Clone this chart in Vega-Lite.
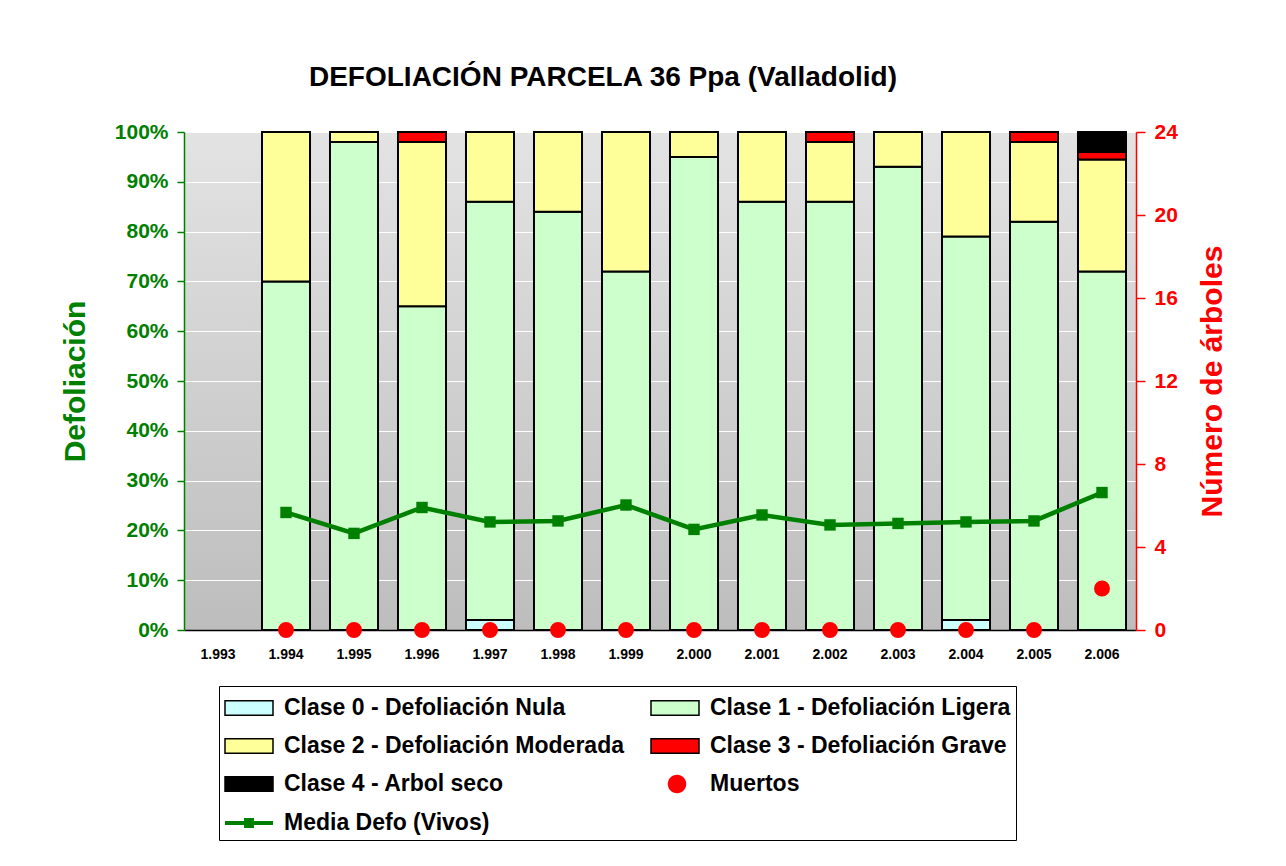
{
  "$schema": "https://vega.github.io/schema/vega-lite/v6.json",
  "width": 952,
  "height": 498,
  "padding": {"left": 184, "top": 132, "right": 150, "bottom": 236},
  "autosize": {"type": "none"},
  "background": "#ffffff",
  "config": {
    "font": "Liberation Sans",
    "view": {"stroke": "#808080", "strokeWidth": 1},
    "legend": {
      "orient": "none",
      "legendX": 35,
      "legendY": 554,
      "direction": "horizontal",
      "columns": 2,
      "columnPadding": 24,
      "rowPadding": 9,
      "padding": 5,
      "strokeColor": "#000000",
      "fillColor": "#ffffff",
      "labelFontSize": 23,
      "labelFontWeight": "bold",
      "labelColor": "#000000",
      "labelFont": "Liberation Sans",
      "labelLimit": 600,
      "labelOffset": 26,
      "symbolSize": 1024,
      "symbolStrokeWidth": 1.5
    }
  },
  "view": {
    "stroke": "#808080",
    "fill": {
      "gradient": "linear",
      "x1": 0, "y1": 0, "x2": 0, "y2": 1,
      "stops": [
        {"offset": 0, "color": "#e3e3e3"},
        {"offset": 1, "color": "#bdbdbd"}
      ]
    }
  },
  "title": {
    "text": "DEFOLIACIÓN PARCELA 36 Ppa (Valladolid)",
    "fontSize": 28,
    "fontWeight": "bold",
    "color": "#000000",
    "font": "Liberation Sans",
    "anchor": "middle",
    "frame": "group",
    "dx": -57,
    "baseline": "alphabetic",
    "offset": 7
  },
  "datasets": {
    "bars": [
      {"anio": "1.994", "clase": "Clase 1 - Defoliación Ligera", "orden": 1, "pct": 0.70},
      {"anio": "1.994", "clase": "Clase 2 - Defoliación Moderada", "orden": 2, "pct": 0.30},
      {"anio": "1.995", "clase": "Clase 1 - Defoliación Ligera", "orden": 1, "pct": 0.98},
      {"anio": "1.995", "clase": "Clase 2 - Defoliación Moderada", "orden": 2, "pct": 0.02},
      {"anio": "1.996", "clase": "Clase 1 - Defoliación Ligera", "orden": 1, "pct": 0.65},
      {"anio": "1.996", "clase": "Clase 2 - Defoliación Moderada", "orden": 2, "pct": 0.33},
      {"anio": "1.996", "clase": "Clase 3 - Defoliación Grave", "orden": 3, "pct": 0.02},
      {"anio": "1.997", "clase": "Clase 0 - Defoliación Nula", "orden": 0, "pct": 0.02},
      {"anio": "1.997", "clase": "Clase 1 - Defoliación Ligera", "orden": 1, "pct": 0.84},
      {"anio": "1.997", "clase": "Clase 2 - Defoliación Moderada", "orden": 2, "pct": 0.14},
      {"anio": "1.998", "clase": "Clase 1 - Defoliación Ligera", "orden": 1, "pct": 0.84},
      {"anio": "1.998", "clase": "Clase 2 - Defoliación Moderada", "orden": 2, "pct": 0.16},
      {"anio": "1.999", "clase": "Clase 1 - Defoliación Ligera", "orden": 1, "pct": 0.72},
      {"anio": "1.999", "clase": "Clase 2 - Defoliación Moderada", "orden": 2, "pct": 0.28},
      {"anio": "2.000", "clase": "Clase 1 - Defoliación Ligera", "orden": 1, "pct": 0.95},
      {"anio": "2.000", "clase": "Clase 2 - Defoliación Moderada", "orden": 2, "pct": 0.05},
      {"anio": "2.001", "clase": "Clase 1 - Defoliación Ligera", "orden": 1, "pct": 0.86},
      {"anio": "2.001", "clase": "Clase 2 - Defoliación Moderada", "orden": 2, "pct": 0.14},
      {"anio": "2.002", "clase": "Clase 1 - Defoliación Ligera", "orden": 1, "pct": 0.86},
      {"anio": "2.002", "clase": "Clase 2 - Defoliación Moderada", "orden": 2, "pct": 0.12},
      {"anio": "2.002", "clase": "Clase 3 - Defoliación Grave", "orden": 3, "pct": 0.02},
      {"anio": "2.003", "clase": "Clase 1 - Defoliación Ligera", "orden": 1, "pct": 0.93},
      {"anio": "2.003", "clase": "Clase 2 - Defoliación Moderada", "orden": 2, "pct": 0.07},
      {"anio": "2.004", "clase": "Clase 0 - Defoliación Nula", "orden": 0, "pct": 0.02},
      {"anio": "2.004", "clase": "Clase 1 - Defoliación Ligera", "orden": 1, "pct": 0.77},
      {"anio": "2.004", "clase": "Clase 2 - Defoliación Moderada", "orden": 2, "pct": 0.21},
      {"anio": "2.005", "clase": "Clase 1 - Defoliación Ligera", "orden": 1, "pct": 0.82},
      {"anio": "2.005", "clase": "Clase 2 - Defoliación Moderada", "orden": 2, "pct": 0.16},
      {"anio": "2.005", "clase": "Clase 3 - Defoliación Grave", "orden": 3, "pct": 0.02},
      {"anio": "2.006", "clase": "Clase 1 - Defoliación Ligera", "orden": 1, "pct": 0.72},
      {"anio": "2.006", "clase": "Clase 2 - Defoliación Moderada", "orden": 2, "pct": 0.225},
      {"anio": "2.006", "clase": "Clase 3 - Defoliación Grave", "orden": 3, "pct": 0.015},
      {"anio": "2.006", "clase": "Clase 4 - Arbol seco", "orden": 4, "pct": 0.04}
    ],
    "media": [
      {"anio": "1.994", "media": 0.236},
      {"anio": "1.995", "media": 0.194},
      {"anio": "1.996", "media": 0.246},
      {"anio": "1.997", "media": 0.217},
      {"anio": "1.998", "media": 0.219},
      {"anio": "1.999", "media": 0.251},
      {"anio": "2.000", "media": 0.202},
      {"anio": "2.001", "media": 0.231},
      {"anio": "2.002", "media": 0.211},
      {"anio": "2.003", "media": 0.214},
      {"anio": "2.004", "media": 0.217},
      {"anio": "2.005", "media": 0.219},
      {"anio": "2.006", "media": 0.276}
    ],
    "muertos": [
      {"anio": "1.994", "muertos": 0},
      {"anio": "1.995", "muertos": 0},
      {"anio": "1.996", "muertos": 0},
      {"anio": "1.997", "muertos": 0},
      {"anio": "1.998", "muertos": 0},
      {"anio": "1.999", "muertos": 0},
      {"anio": "2.000", "muertos": 0},
      {"anio": "2.001", "muertos": 0},
      {"anio": "2.002", "muertos": 0},
      {"anio": "2.003", "muertos": 0},
      {"anio": "2.004", "muertos": 0},
      {"anio": "2.005", "muertos": 0},
      {"anio": "2.006", "muertos": 2}
    ]
  },
  "encoding": {
    "x": {
      "field": "anio",
      "type": "nominal",
      "scale": {
        "type": "band",
        "domain": ["1.993", "1.994", "1.995", "1.996", "1.997", "1.998", "1.999", "2.000", "2.001", "2.002", "2.003", "2.004", "2.005", "2.006"],
        "paddingInner": 0.294,
        "paddingOuter": 0.147
      },
      "axis": {
        "title": null,
        "labelAngle": 0,
        "labelFontSize": 14,
        "labelFontWeight": "bold",
        "labelColor": "#000000",
        "labelPadding": 17,
        "ticks": false,
        "domainColor": "#000000",
        "domainWidth": 1.5,
        "grid": false
      }
    }
  },
  "layer": [
    {
      "layer": [
        {
          "data": {"name": "bars"},
          "mark": {"type": "bar", "stroke": "#000000", "strokeWidth": 2},
          "encoding": {
            "y": {
              "field": "pct",
              "type": "quantitative",
              "stack": "zero",
              "scale": {"domain": [0, 1], "nice": false},
              "axis": {
                "orient": "left",
                "values": [0, 0.1, 0.2, 0.3, 0.4, 0.5, 0.6, 0.7, 0.8, 0.9, 1],
                "format": ".0%",
                "title": "Defoliación",
                "titleFontSize": 30,
                "titleFontWeight": "bold",
                "titleColor": "#008000",
                "titlePadding": 24,
                "labelFontSize": 21,
                "labelFontWeight": "bold",
                "labelColor": "#008000",
                "labelPadding": 9,
                "tickColor": "#008000",
                "tickSize": 7,
                "tickWidth": 1.5,
                "domainColor": "#008000",
                "domainWidth": 1.5,
                "grid": true,
                "gridColor": "#ffffff",
                "gridWidth": 1,
                "gridOpacity": 1
              }
            },
            "order": {"field": "orden", "type": "quantitative"},
            "color": {
              "field": "clase",
              "type": "nominal",
              "scale": {
                "domain": ["Clase 0 - Defoliación Nula", "Clase 1 - Defoliación Ligera", "Clase 2 - Defoliación Moderada", "Clase 3 - Defoliación Grave", "Clase 4 - Arbol seco", "Muertos", "Media Defo (Vivos)"],
                "range": ["#ccffff", "#ccffcc", "#ffff99", "#ff0000", "#000000", "#ff0000", "#008000"]
              },
              "legend": {
                "title": null,
                "symbolType": {"expr": "datum.value === 'Muertos' ? 'M0.045,0A0.58,0.58 0 1,0 1.205,0A0.58,0.58 0 1,0 0.045,0Z' : datum.value === 'Media Defo (Vivos)' ? 'M-1,-0.125H0.19V-0.31H0.81V-0.125H2V0.125H0.81V0.31H0.19V0.125H-1Z' : 'M-1,-0.45H2V0.45H-1Z'"},
                "symbolStrokeColor": {"expr": "(datum.value === 'Muertos' || datum.value === 'Media Defo (Vivos)') ? 'transparent' : '#000000'"},
                "symbolStrokeWidth": 1.5
              }
            }
          }
        },
        {
          "data": {"name": "media"},
          "mark": {"type": "line", "color": "#008000", "strokeWidth": 4.5, "point": {"shape": "square", "size": 130, "filled": true, "opacity": 1, "color": "#008000"}},
          "encoding": {
            "y": {"field": "media", "type": "quantitative"}
          }
        }
      ]
    },
    {
      "data": {"name": "muertos"},
      "mark": {"type": "point", "shape": "circle", "filled": true, "size": 254, "opacity": 1, "color": "#ff0000"},
      "encoding": {
        "y": {
          "field": "muertos",
          "type": "quantitative",
          "scale": {"domain": [0, 24], "nice": false},
          "axis": {
            "orient": "right",
            "values": [0, 4, 8, 12, 16, 20, 24],
            "title": "Número de árboles",
            "titleAngle": 270,
            "titleBaseline": "top",
            "titleFontSize": 30,
            "titleFontWeight": "bold",
            "titleColor": "#ff0000",
            "titlePadding": 20,
            "labelFontSize": 21,
            "labelFontWeight": "bold",
            "labelColor": "#ff0000",
            "labelPadding": 9,
            "tickColor": "#ff0000",
            "tickSize": 9,
            "tickWidth": 1.5,
            "domainColor": "#ff0000",
            "domainWidth": 1.5,
            "grid": false
          }
        }
      }
    }
  ],
  "resolve": {"scale": {"y": "independent"}}
}
